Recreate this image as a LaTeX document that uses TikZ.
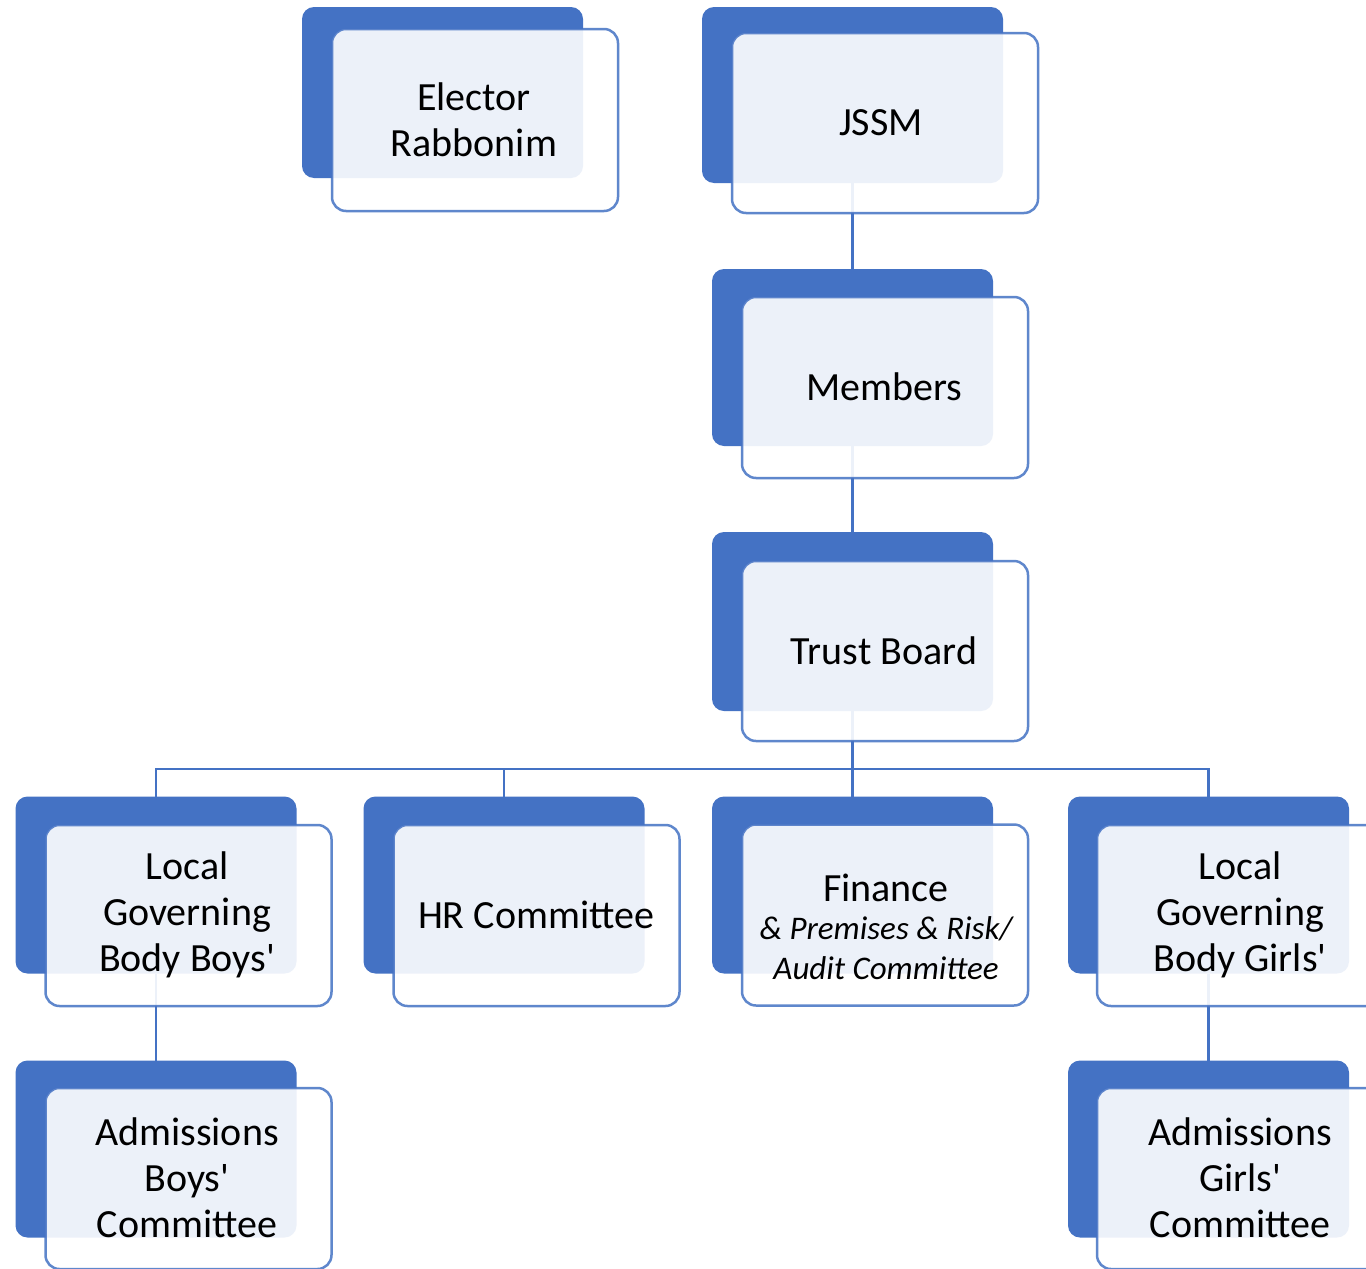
\documentclass[tikz,border=0pt]{standalone}
\usepackage{fontspec}
\setmainfont{Carlito}
\usetikzlibrary{backgrounds}
\definecolor{accent}{HTML}{4472C4}
\newcommand\apos{\textquotesingle}
\tikzset{
  backbox/.style={fill=accent, rounded corners=12pt, minimum width=281pt, minimum height=177pt, inner sep=0pt, outer sep=0pt},
  frontbox/.style={draw=accent, line width=2.5pt, fill=white, fill opacity=0.9, draw opacity=0.85, rounded corners=14pt, minimum width=286pt, minimum height=181pt, inner sep=0pt, outer sep=0pt},
  boxtext/.style={text=black, align=center, font=\fontsize{40}{46}\selectfont, inner sep=0pt},
  link/.style={draw=accent, line width=2.6pt}
}
\begin{document}
\begin{tikzpicture}[x=1pt, y=-1pt]
\useasboundingbox (0,0) rectangle (1366,1269);
\clip (0,0) rectangle (1366,1269);

% back boxes
\node[backbox, minimum height=171pt] (bER) at (442.5,92.5) {};
\node[backbox, minimum width=301pt, minimum height=176pt] (bJS) at (852.5,95) {};
\node[backbox] (bME) at (852.5,357.5) {};
\node[backbox, minimum height=179pt] (bTB) at (852.5,621.5) {};
\node[backbox] (bLB) at (156,885) {};
\node[backbox] (bHR) at (504,885) {};
\node[backbox] (bFI) at (852.5,885) {};
\node[backbox] (bLG) at (1208.5,885) {};
\node[backbox] (bAB) at (156,1149) {};
\node[backbox] (bAG) at (1208.5,1149) {};

% connectors
\coordinate (bus) at (852.5,769);
\begin{scope}[on background layer]
  \fill[white] (0,0) rectangle (1366,1269);
  \draw[link] (bJS.south) -- (bME.north);
  \draw[link] (bME.south) -- (bTB.north);
  \draw[link] (bTB.south) -- (bus);
  \draw[link] (bLB.north) |- (bus);
  \draw[link] (bHR.north) |- (bus);
  \draw[link] (bFI.north) -- (bus);
  \draw[link] (bLG.north) |- (bus);
  \draw[link] (bLB.south) -- (bAB.north);
  \draw[link] (bLG.south) -- (bAG.north);
\end{scope}

% front boxes
\node[frontbox, minimum height=182pt] (fER) at (475,120) {};
\node[frontbox, minimum width=306pt, minimum height=180pt] (fJS) at (885,123) {};
\node[frontbox] (fME) at (885,387.5) {};
\node[frontbox, minimum height=180pt] (fTB) at (885,651) {};
\node[frontbox] (fLB) at (188.5,915.5) {};
\node[frontbox] (fHR) at (536.5,915.5) {};
\node[frontbox] (fFI) at (885,915) {};
\node[frontbox] (fLG) at (1240,915.5) {};
\node[frontbox] (fAB) at (188.5,1178.5) {};
\node[frontbox] (fAG) at (1240,1178.5) {};

% texts
\node[boxtext] (tER) at (474,120) {Elector\\Rabbonim};
\node[boxtext] (tJS) at (881,123) {JSSM};
\node[boxtext] (tME) at (884,387) {Members};
\node[boxtext] (tTB) at (884,651) {Trust Board};
\node[boxtext] (tLB) at (187,915) {Local\\Governing\\Body Boys\apos};
\node[boxtext] (tHR) at (536,915) {HR Committee};
\node[boxtext] (tFI) at (886,927) {Finance\\[-8pt]{\fontsize{33}{39}\selectfont\itshape \& Premises \& Risk/}\\[-6pt]{\fontsize{33}{39}\selectfont\itshape Audit Committee}};
\node[boxtext] (tLG) at (1240,915) {Local\\Governing\\Body Girls\apos};
\node[boxtext] (tAB) at (187,1178) {Admissions\\Boys\apos\\Committee};
\node[boxtext] (tAG) at (1240,1178) {Admissions\\Girls\apos\\Committee};
\end{tikzpicture}
\end{document}
